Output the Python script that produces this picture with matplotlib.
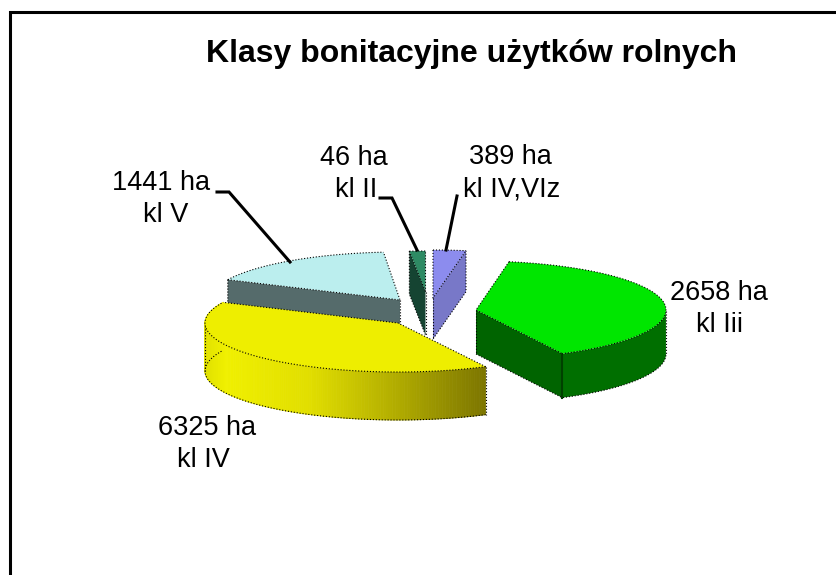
import numpy as np
import matplotlib
matplotlib.use("Agg")
import matplotlib.pyplot as plt

plt.rcParams['font.family'] = ['Liberation Sans', 'DejaVu Sans']

title = 'Klasy bonitacyjne użytków rolnych'
#order is clockwise from the top of the pie
classes = ['kl IV,VIz', 'kl Iii', 'kl IV', 'kl V', 'kl II']
areas_ha = [389, 2658, 6325, 1441, 46]
#the picture is not drawn to the labels, these are the slice sizes as drawn
drawn_deg = [10, 143, 142, 60, 5]

#apex of each slice top, radii of its ellipse, wall height (pixels)
apex = [(433, 298), (476, 310), (398, 323), (400, 300), (425.5, 292)]
radii = [(190, 48), (190, 49), (193, 49), (190, 48), (185, 41)]
wall = [41, 44, 48, 44, 43]

top_col = ['#8c8cee', '#00e600', '#eeee00', '#bbeeee', '#2e8b64']
side_col = ['#7878c8', '#006400', '#8a8400', '#556b6b', '#154432']

label_pos = [(510, 157), (719, 293), (207, 428), (161, 183), (354, 158)]
class_pos = [(512, 190), (720, 325), (203, 460), (166, 215), (356, 190)]

#leader lines for the small slices
leaders = [
	[(457, 196), (446, 250)],
	[(217, 192), (229, 192), (290, 262)],
	[(380, 198), (392, 198), (417, 250)],
]


def arc(i, t1, t2, n=80):
	t = np.radians(np.linspace(t1, t2, n))
	x = apex[i][0] + radii[i][0] * np.sin(t)
	y = apex[i][1] - radii[i][1] * np.cos(t)
	return x, y


def edge(x, y, col='black'):
	#same zorder as the fills so that later slices cover earlier ones
	plt.plot(x, y, ':', color=col, lw=0.8, zorder=2)


def wall_fill(x, y, col):
	plt.fill(x, y, color=col, lw=0, zorder=2)


def draw_slice(i, t1, t2):
	x, y = arc(i, t1, t2)
	h = wall[i]
	ax0, ay0 = apex[i]

	#walls first
	if i == 1:
		#radius wall then the outer arc
		wall_fill([ax0, x[-1], x[-1], ax0], [ay0, y[-1], y[-1] + h, ay0 + h], side_col[i])
		a = y > ay0
		wall_fill(np.r_[x[a], x[a][::-1]], np.r_[y[a], y[a][::-1] + h], '#006f00')
		plt.plot([x[-1], x[-1]], [y[-1], y[-1] + h], color='#004000', lw=1.5, zorder=2)
		edge(x[a], y[a] + h)
		edge([ax0, x[-1]], [ay0 + h, y[-1] + h])
		edge([ax0, ax0], [ay0, ay0 + h])
		edge([x[a][0], x[a][0]], [y[a][0], y[a][0] + h])
	elif i == 2:
		#yellow wall is shaded from left to right, one strip per step
		xs, ys = arc(i, t1, t2, 200)
		stops = [205, 225, 310, 400, 484]
		reds = [225, 240, 225, 175, 125]
		greens = [225, 240, 222, 170, 118]
		for k in range(len(xs) - 1):
			xm = (xs[k] + xs[k + 1]) / 2
			col = (np.interp(xm, stops, reds) / 255, np.interp(xm, stops, greens) / 255, 0)
			plt.fill([xs[k], xs[k + 1], xs[k + 1], xs[k]],
				[ys[k], ys[k + 1], ys[k + 1] + h, ys[k] + h], color=col, lw=0.6, zorder=2)
		edge(xs, ys + h)
		edge([xs.min(), xs.min()], [ay0, ay0 + h])
		edge([xs[0], xs[0]], [ys[0], ys[0] + h])
	elif i == 0:
		#end radius wall
		wall_fill([ax0, x[-1], x[-1], ax0], [ay0, y[-1], y[-1] + h, ay0 + h], side_col[i])
		edge([x[-1], x[-1], ax0], [y[-1], y[-1] + h, ay0 + h])
		edge([ax0, ax0], [ay0, ay0 + h])
	else:
		#start radius wall
		wall_fill([ax0, x[0], x[0], ax0], [ay0, y[0], y[0] + h, ay0 + h], side_col[i])
		edge([x[0], x[0], ax0], [y[0], y[0] + h, ay0 + h])
		edge([ax0, ax0], [ay0, ay0 + h])

	#top of the slice
	plt.fill(np.r_[ax0, x], np.r_[ay0, y], color=top_col[i], lw=0, zorder=2)
	edge(x, y)
	edge([x[0], ax0, x[-1]], [y[0], ay0, y[-1]])


def main():
	fig = plt.figure(figsize=(8.36, 5.75), dpi=100)
	ax = fig.add_axes([0, 0, 1, 1])
	ax.set_xlim(0, 836)
	ax.set_ylim(575, 0)
	ax.axis('off')

	#frame is only on the top and left
	plt.plot([9.5, 9.5, 836], [575, 11.5, 11.5], color='black', lw=2.2, solid_joinstyle='miter')

	ends = np.cumsum(drawn_deg)
	starts = ends - np.array(drawn_deg)

	#back to front
	for i in [3, 4, 0, 1, 2]:
		draw_slice(i, starts[i], ends[i])

	for line in leaders:
		xs, ys = zip(*line)
		plt.plot(xs, ys, color='black', lw=2.2, zorder=4, solid_joinstyle='miter')

	plt.text(471, 54, title, fontsize=23, fontweight='bold', ha='center', va='center', color='black')

	for i in range(len(classes)):
		plt.text(label_pos[i][0], label_pos[i][1], str(areas_ha[i]) + ' ha',
			fontsize=19.5, ha='center', va='center', color='black')
		plt.text(class_pos[i][0], class_pos[i][1], classes[i],
			fontsize=19.5, ha='center', va='center', color='black')

	plt.savefig('out.png', dpi=100)


if __name__ == '__main__':
	main()
